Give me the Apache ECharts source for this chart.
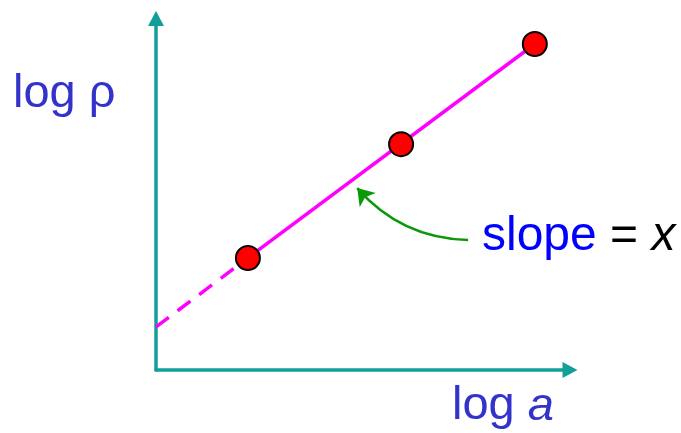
<!DOCTYPE html>
<html>
<head>
<meta charset="utf-8">
<script src="https://cdn.jsdelivr.net/npm/echarts@6/dist/echarts.min.js"></script>
<style>
  html, body { margin: 0; padding: 0; background: #ffffff; }
  #chart { width: 681px; height: 433px; }
</style>
</head>
<body>
<div id="chart"></div>
<script>
// log a / log rho measurements (arbitrary log units)
const logA = [2.22, 5.92, 9.15];
const logRho = [2.55, 5.14, 7.42];
// extrapolated fit line back to log a = 0
const fitIntercept = [0, 0.98];
// annotation arrow pointing at the fitted line
const arrowFrom = [7.54, 2.96];
const arrowTo = [4.86, 4.14];

const points = logA.map((a, i) => [a, logRho[i]]);
const first = points[0];
const last = points[points.length - 1];

const teal = '#129e99';
const FONT = '"Liberation Sans", Arial, sans-serif';
const chart = echarts.init(document.getElementById('chart'), null, { renderer: 'canvas' });

chart.setOption({
  animation: false,
  backgroundColor: '#ffffff',
  grid: { left: 156, top: 18.5, width: 414, height: 351.5, containLabel: false },
  xAxis: {
    type: 'value', min: 0, max: 10,
    axisLine: { show: true, onZero: false, symbol: ['none', 'triangle'], symbolSize: [16, 15],
      lineStyle: { color: teal, width: 3.5 } },
    axisTick: { show: false }, axisLabel: { show: false }, splitLine: { show: false }
  },
  yAxis: {
    type: 'value', min: 0, max: 8,
    axisLine: { show: true, onZero: false, symbol: ['none', 'triangle'], symbolSize: [16, 15],
      lineStyle: { color: teal, width: 3.5 } },
    axisTick: { show: false }, axisLabel: { show: false }, splitLine: { show: false }
  },
  series: [
    {
      type: 'line', data: [fitIntercept, first], symbol: 'none',
      lineStyle: { color: '#ff00ff', width: 3.5, type: [16, 11] }, z: 2
    },
    {
      type: 'line', data: [first, last], symbol: 'none',
      lineStyle: { color: '#ff00ff', width: 3.5 }, z: 2
    },
    {
      type: 'scatter', data: points, symbol: 'circle', symbolSize: 24,
      itemStyle: { color: '#ff0000', borderColor: '#000000', borderWidth: 2, opacity: 1 }, z: 4
    },
    {
      type: 'lines', coordinateSystem: 'cartesian2d',
      symbol: ['none', 'arrow'], symbolSize: 16,
      lineStyle: { color: '#0a990a', width: 2.5, curveness: 0.22, opacity: 1 },
      data: [{ coords: [arrowFrom, arrowTo] }], z: 3
    }
  ],
  graphic: [
    {
      type: 'text', left: 13, top: 71,
      style: { text: 'log ρ', font: '47px ' + FONT, fill: '#3333cc' }
    },
    {
      type: 'text', left: 452, top: 383,
      style: {
        text: 'log {i|a}', font: '47px ' + FONT, fill: '#3333cc',
        rich: { i: { font: 'italic 47px ' + FONT, fill: '#3333cc' } }
      }
    },
    {
      type: 'text', left: 482, top: 213,
      style: {
        text: '{b|slope} {k|=} {x|x}', font: '48px ' + FONT,
        rich: {
          b: { font: '48px ' + FONT, fill: '#0000ff' },
          k: { font: '48px ' + FONT, fill: '#000000' },
          x: { font: 'italic 48px ' + FONT, fill: '#000000' }
        }
      }
    }
  ]
});
</script>
</body>
</html>
